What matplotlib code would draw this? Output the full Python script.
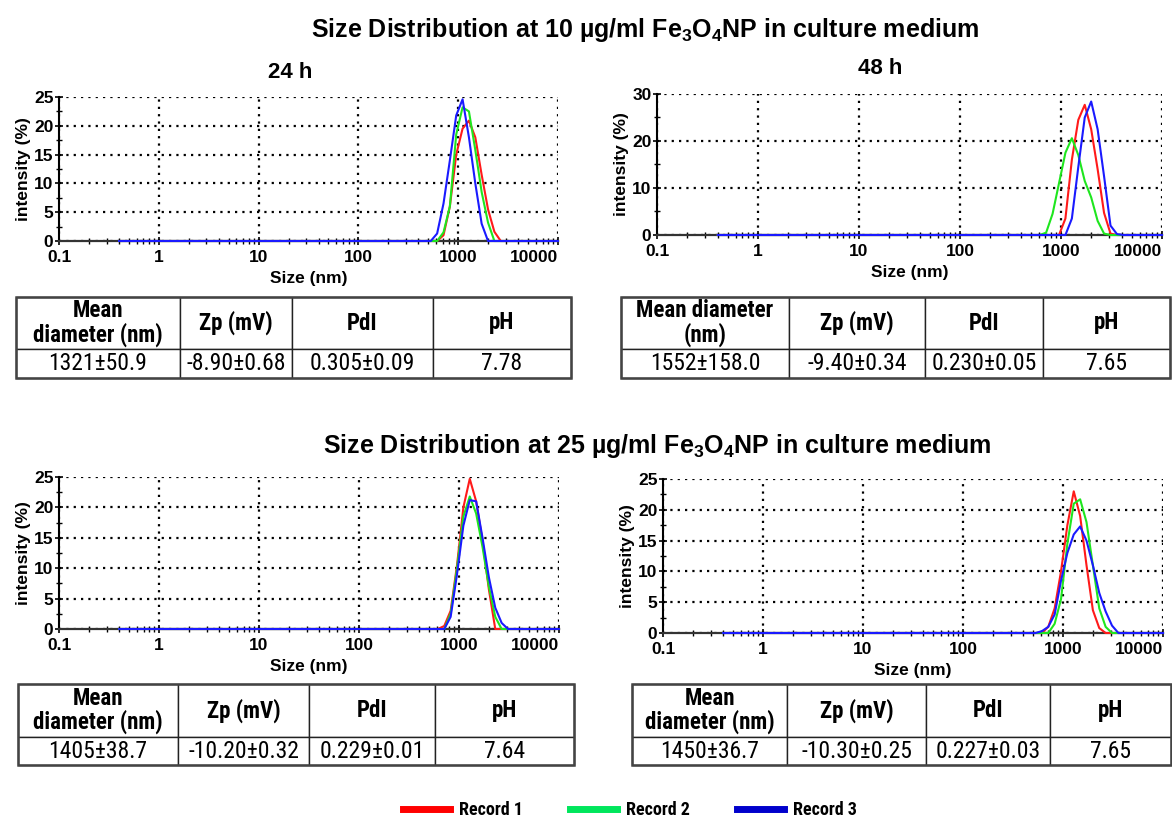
import os

import matplotlib
matplotlib.use("Agg")
import matplotlib.pyplot as plt
import numpy as np
from matplotlib import font_manager as fm
from matplotlib.lines import Line2D
from matplotlib.patches import Rectangle
from matplotlib.ticker import LogLocator, MultipleLocator, NullFormatter

plt.rcParams["font.family"] = ["Liberation Sans", "DejaVu Sans"]
plt.rcParams["font.weight"] = "bold"
plt.rcParams["axes.labelweight"] = "bold"
plt.rcParams["mathtext.fontset"] = "custom"
plt.rcParams["mathtext.rm"] = "Liberation Sans:bold"
plt.rcParams["mathtext.bf"] = "Liberation Sans:bold"
plt.rcParams["mathtext.default"] = "bf"

# size bins (nm) around the peak, plus the ends of the measured range
SIZE_NM = [0.4, 531.2, 615.1, 712.4, 825.0, 955.4, 1106, 1281, 1484, 1718,
           1990, 2305, 2669, 3091, 3580, 4145, 10000]

# 10 ug/ml, 24 h
p1_rec1 = [0, 0, 0, 1.0, 6.0, 15.0, 19.5, 20.9, 18.0, 11.5, 5.5, 1.6, 0, 0, 0, 0, 0]
p1_rec2 = [0, 0, 0, 1.5, 6.0, 18.5, 23.2, 22.5, 15.8, 8.5, 3.2, 0, 0, 0, 0, 0, 0]
p1_rec3 = [0, 0, 1.3, 6.5, 14.0, 21.8, 24.6, 18.0, 10.0, 3.0, 0, 0, 0, 0, 0, 0, 0]
# 10 ug/ml, 48 h
p2_rec1 = [0, 0, 0, 0, 0, 0, 3.5, 16.0, 24.5, 27.7, 22.5, 14.0, 4.7, 0.3, 0, 0, 0]
p2_rec2 = [0, 0, 0, 0.5, 4.5, 11.0, 17.5, 20.6, 17.0, 11.5, 8.0, 3.0, 0.3, 0, 0, 0, 0]
p2_rec3 = [0, 0, 0, 0, 0, 0, 0, 3.5, 14.5, 25.0, 28.4, 22.5, 12.5, 2.0, 0.2, 0, 0]
# 25 ug/ml, 24 h
p3_rec1 = [0, 0, 0, 0.5, 3.0, 10.5, 20.0, 24.7, 21.0, 14.5, 6.5, 0, 0, 0, 0, 0, 0]
p3_rec2 = [0, 0, 0, 0, 2.5, 10.0, 18.5, 21.8, 19.0, 13.5, 7.0, 2.0, 0, 0, 0, 0, 0]
p3_rec3 = [0, 0, 0, 0, 2.0, 9.0, 17.0, 21.2, 21.0, 15.0, 8.5, 3.5, 1.0, 0, 0, 0, 0]
# 25 ug/ml, 48 h
p4_rec1 = [0, 0, 0, 1.0, 4.0, 10.0, 17.5, 23.0, 19.0, 11.0, 3.7, 0.8, 0, 0, 0, 0, 0]
p4_rec2 = [0, 0, 0, 0, 1.5, 5.5, 14.5, 21.0, 21.7, 18.0, 11.0, 4.0, 1.0, 0, 0, 0, 0]
p4_rec3 = [0, 0, 0.3, 1.0, 3.0, 8.5, 13.0, 16.0, 17.3, 15.0, 11.0, 6.5, 3.5, 1.2, 0, 0, 0]

RECORDS = ["Record 1", "Record 2", "Record 3"]
LINE_COLORS = ["#ff1a1a", "#1ee61e", "#1a1aff"]
LEGEND_COLORS = ["#ff0000", "#00e65c", "#0000cc"]

XTICKS = [0.1, 1, 10, 100, 1000, 10000]
XTICK_LABELS = ["0.1", "1", "10", "100", "1000", "10000"]

HEAD_A = ["Mean\ndiameter (nm)", "Zp (mV)", "PdI", "pH"]
HEAD_B = ["Mean diameter\n(nm)", "Zp (mV)", "PdI", "pH"]
t1_vals = ["1321±50.9", "-8.90±0.68", "0.305±0.09", "7.78"]
t2_vals = ["1552±158.0", "-9.40±0.34", "0.230±0.05", "7.65"]
t3_vals = ["1405±38.7", "-10.20±0.32", "0.229±0.01", "7.64"]
t4_vals = ["1450±36.7", "-10.30±0.25", "0.227±0.03", "7.65"]

TITLE_10 = r"Size Distribution at 10 µg/ml Fe$_3$O$_4$NP in culture medium"
TITLE_25 = r"Size Distribution at 25 µg/ml Fe$_3$O$_4$NP in culture medium"


def narrow_font():
    # the tables use an Arial Narrow look; take whatever condensed sans is installed
    wanted = ["liberationsansnarrow", "arialnarrow", "robotocondensed",
              "notosanscondensed", "opensanscondensed", "dejavusanscondensed"]
    for key in wanted:
        for f in fm.fontManager.ttflist:
            base = os.path.basename(f.fname).lower()
            for ch in "-_ ":
                base = base.replace(ch, "")
            if key in base:
                return f.name, f.stretch, True
    return "Liberation Sans", "normal", False


NARROW, NARROW_STRETCH, HAVE_NARROW = narrow_font()
DATA_SIZE = 17 if HAVE_NARROW else 14
HEAD_SIZE = 16.5 if HAVE_NARROW else 14
LEGEND_SIZE = 13 if HAVE_NARROW else 11.5

W, H = 1172, 821
fig = plt.figure(figsize=(W / 100, H / 100), dpi=100)


def px_axes(left, top, right, bottom):
    return fig.add_axes([left / W, 1 - bottom / H, (right - left) / W, (bottom - top) / H])


def draw_panel(ax, series, ymax, ystep, yminor):
    for values, color in zip(series, LINE_COLORS):
        ax.plot(SIZE_NM, values, color=color, lw=1.5, clip_on=False, zorder=3)
    ax.set_xscale("log")
    ax.set_xlim(0.1, 10000)
    ax.set_ylim(0, ymax)
    ax.set_xticks(XTICKS)
    ax.set_xticklabels(XTICK_LABELS, fontweight="bold")
    ax.get_xticklabels()[-1].set_horizontalalignment("right")
    ax.xaxis.set_minor_locator(LogLocator(base=10, subs=range(2, 10)))
    ax.xaxis.set_minor_formatter(NullFormatter())
    yt = np.arange(0, ymax + 1, ystep)
    ax.set_yticks(yt)
    ax.set_yticklabels([str(v) for v in yt], fontweight="bold")
    ax.yaxis.set_minor_locator(MultipleLocator(yminor))
    ax.grid(True, which="major", color="black", linestyle=(0, (1, 2.3)), lw=1.6)
    for side in ("top", "right"):
        ax.spines[side].set_visible(False)
    ax.spines["left"].set_linewidth(1.5)
    ax.spines["bottom"].set_linewidth(1.6)
    ax.spines["bottom"].set_color("#333333")
    ax.tick_params(which="major", direction="inout", length=6, width=1.2, labelsize=12.5)
    ax.tick_params(which="minor", direction="inout", length=4, width=1.0)
    ax.tick_params(axis="x", pad=3.5)
    ax.tick_params(axis="y", pad=1)
    ax.set_xlabel("Size (nm)", fontsize=12.5, fontweight="bold", labelpad=4)
    ax.set_ylabel("intensity (%)", fontsize=12.5, fontweight="bold", labelpad=2)


def draw_table(left, top, right, bottom, split, col_px, headers, values):
    ax = px_axes(left, top, right, bottom)
    ax.axis("off")
    tbl = ax.table(cellText=[values], colLabels=headers,
                   colWidths=[c / sum(col_px) for c in col_px],
                   cellLoc="center", colLoc="center", bbox=[0, 0, 1, 1])
    tbl.auto_set_font_size(False)
    head_frac = (split - top) / (bottom - top)
    for (r, c), cell in tbl.get_celld().items():
        cell.set_edgecolor("#222222")
        cell.set_linewidth(1.0)
        cell.set_height(head_frac if r == 0 else 1 - head_frac)
        txt = cell.get_text()
        txt.set_fontsize(HEAD_SIZE if r == 0 else DATA_SIZE)
        txt.set_family([NARROW, "Liberation Sans"])
        txt.set_fontstretch(NARROW_STRETCH)
        txt.set_linespacing(1.0)
        txt.set_fontweight("bold" if r == 0 else "normal")
    ax.add_patch(Rectangle((0, 0), 1, 1, transform=ax.transAxes, fill=False,
                           lw=1.8, edgecolor="#444444", clip_on=False))


ax1 = px_axes(59, 97, 558, 241)
draw_panel(ax1, [p1_rec1, p1_rec2, p1_rec3], 25, 5, 2.5)
ax2 = px_axes(657, 94, 1162, 235)
draw_panel(ax2, [p2_rec1, p2_rec2, p2_rec3], 30, 10, 5)
ax3 = px_axes(59, 477, 559, 629)
draw_panel(ax3, [p3_rec1, p3_rec2, p3_rec3], 25, 5, 2.5)
ax4 = px_axes(663, 479, 1163, 633)
draw_panel(ax4, [p4_rec1, p4_rec2, p4_rec3], 25, 5, 2.5)

fig.text(645 / W, 1 - 30 / H, TITLE_10, ha="center", va="center", fontsize=18, fontweight="bold")
fig.text(657 / W, 1 - 446 / H, TITLE_25, ha="center", va="center", fontsize=18, fontweight="bold")
fig.text(290 / W, 1 - 72 / H, "24 h", ha="center", va="center", fontsize=16, fontweight="bold")
fig.text(880 / W, 1 - 68 / H, "48 h", ha="center", va="center", fontsize=16, fontweight="bold")

draw_table(16, 297, 571, 378, 349, [164, 112, 141, 138], HEAD_A, t1_vals)
draw_table(621, 297, 1170, 378, 349, [168, 136, 118, 127], HEAD_B, t2_vals)
draw_table(18, 684, 574, 765, 737, [160, 131, 126, 139], HEAD_A, t3_vals)
draw_table(632, 684, 1171, 765, 737, [155, 139, 124, 121], HEAD_A, t4_vals)

handles = [Line2D([], [], color=c, lw=5) for c in LEGEND_COLORS]
fig.legend(handles, RECORDS, loc="center", bbox_to_anchor=(630 / W, 1 - 810 / H),
           ncol=3, frameon=False, handlelength=2.6, handletextpad=0.5, columnspacing=2.6,
           borderpad=0.2, prop={"family": [NARROW, "Liberation Sans"], "stretch": NARROW_STRETCH,
                                "weight": "bold", "size": LEGEND_SIZE})

fig.savefig("out.png", dpi=100)
